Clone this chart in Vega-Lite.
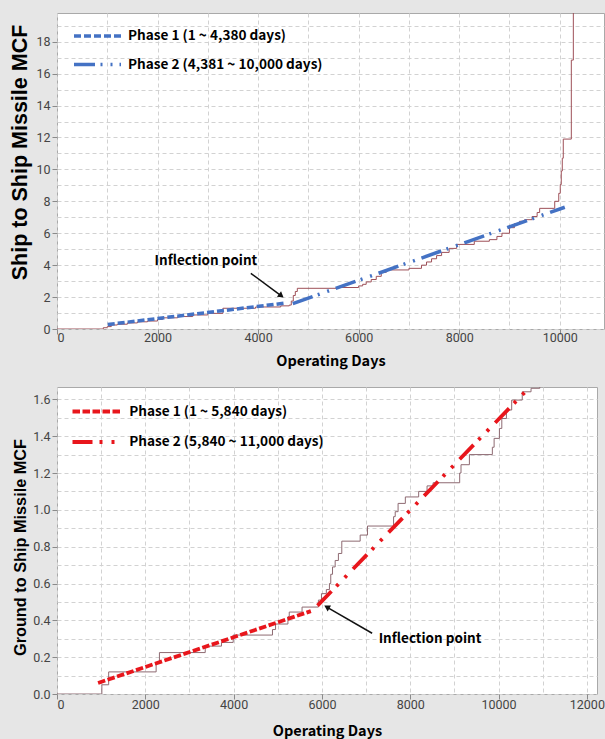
{
  "$schema": "https://vega.github.io/schema/vega-lite/v6.json",
  "background": "#e6e6e6",
  "padding": {"top": 12, "left": 9, "right": 2, "bottom": 20},
  "spacing": 10,
  "config": {
    "view": {"fill": "white", "stroke": "#a9a9a9", "strokeWidth": 1},
    "axis": {
      "labelFont": "Roboto", "labelFontSize": 12.5, "labelColor": "#444444",
      "titleFontWeight": "bold", "titleColor": "#000000",
      "gridColor": "#d2d2d2", "gridDash": [4, 3], "gridWidth": 1,
      "domain": false, "tickColor": "#8a8a8a", "tickSize": 5, "labelOverlap": false
    },
    "axisX": {"titleFont": "Noto Sans CJK KR", "titleFontSize": 14.5},
    "axisY": {"titleFont": "Liberation Sans", "labelPadding": 2},
    "legend": {"labelLimit": 0}
  },
  "datasets": {
    "ssm_mcf": [
      {"days": 0, "mcf": 0}, {"days": 910, "mcf": 0}, {"days": 920, "mcf": 0.08}, {"days": 1000, "mcf": 0.15},
      {"days": 1080, "mcf": 0.25}, {"days": 1200, "mcf": 0.3}, {"days": 1400, "mcf": 0.38}, {"days": 1600, "mcf": 0.45},
      {"days": 1800, "mcf": 0.5}, {"days": 2000, "mcf": 0.6}, {"days": 2100, "mcf": 0.7}, {"days": 2400, "mcf": 0.78},
      {"days": 2700, "mcf": 0.88}, {"days": 3000, "mcf": 0.98}, {"days": 3300, "mcf": 1.3}, {"days": 3950, "mcf": 1.38},
      {"days": 4450, "mcf": 1.45}, {"days": 4620, "mcf": 1.5}, {"days": 4660, "mcf": 1.75}, {"days": 4700, "mcf": 2.1},
      {"days": 4740, "mcf": 2.35}, {"days": 4780, "mcf": 2.55}, {"days": 5600, "mcf": 2.6}, {"days": 6000, "mcf": 2.7},
      {"days": 6080, "mcf": 2.8}, {"days": 6150, "mcf": 2.95}, {"days": 6250, "mcf": 3.1}, {"days": 6350, "mcf": 3.3},
      {"days": 6450, "mcf": 3.55}, {"days": 6550, "mcf": 3.7}, {"days": 7000, "mcf": 3.8}, {"days": 7250, "mcf": 4.0},
      {"days": 7350, "mcf": 4.2}, {"days": 7450, "mcf": 4.4}, {"days": 7550, "mcf": 4.6}, {"days": 7650, "mcf": 4.8},
      {"days": 7800, "mcf": 5.05}, {"days": 7950, "mcf": 5.3}, {"days": 8300, "mcf": 5.5}, {"days": 8600, "mcf": 5.6},
      {"days": 8750, "mcf": 5.8}, {"days": 8850, "mcf": 6.0}, {"days": 9000, "mcf": 6.35}, {"days": 9100, "mcf": 6.6},
      {"days": 9200, "mcf": 6.75}, {"days": 9300, "mcf": 6.85}, {"days": 9450, "mcf": 7.05}, {"days": 9550, "mcf": 7.3},
      {"days": 9600, "mcf": 7.56}, {"days": 9900, "mcf": 8.0}, {"days": 9980, "mcf": 8.5}, {"days": 10010, "mcf": 9.05},
      {"days": 10030, "mcf": 9.9}, {"days": 10050, "mcf": 10.7}, {"days": 10070, "mcf": 11.9}, {"days": 10230, "mcf": 16.85},
      {"days": 10270, "mcf": 19.8}
    ],
    "ssm_phase": [
      {"series": "Phase 1 (1 ~ 4,380 days)", "days": 1010, "mcf": 0.28},
      {"series": "Phase 1 (1 ~ 4,380 days)", "days": 4560, "mcf": 1.63},
      {"series": "Phase 2 (4,381 ~ 10,000 days)", "days": 4690, "mcf": 1.59},
      {"series": "Phase 2 (4,381 ~ 10,000 days)", "days": 10100, "mcf": 7.63}
    ],
    "ssm_arrow": [{"days": 4461, "mcf": 2.08, "days_from": 3855, "mcf_from": 3.49}],
    "ssm_note": [{"label": "Inflection point", "days": 2962, "mcf": 4.23}],
    "gsm_mcf": [
      {"days": 0, "mcf": 0}, {"days": 1016, "mcf": 0.05}, {"days": 1170, "mcf": 0.12}, {"days": 2245, "mcf": 0.17},
      {"days": 2320, "mcf": 0.225}, {"days": 3357, "mcf": 0.26}, {"days": 3725, "mcf": 0.28}, {"days": 3990, "mcf": 0.32},
      {"days": 4880, "mcf": 0.35}, {"days": 4950, "mcf": 0.38}, {"days": 5230, "mcf": 0.42}, {"days": 5260, "mcf": 0.445},
      {"days": 5550, "mcf": 0.472}, {"days": 5920, "mcf": 0.51}, {"days": 5990, "mcf": 0.545}, {"days": 6100, "mcf": 0.567},
      {"days": 6170, "mcf": 0.6}, {"days": 6200, "mcf": 0.65}, {"days": 6240, "mcf": 0.69}, {"days": 6300, "mcf": 0.725},
      {"days": 6373, "mcf": 0.763}, {"days": 6450, "mcf": 0.83}, {"days": 6866, "mcf": 0.863}, {"days": 7032, "mcf": 0.912},
      {"days": 7623, "mcf": 0.963}, {"days": 7660, "mcf": 0.99}, {"days": 7725, "mcf": 1.035}, {"days": 7889, "mcf": 1.07},
      {"days": 8191, "mcf": 1.1}, {"days": 8381, "mcf": 1.13}, {"days": 8518, "mcf": 1.147}, {"days": 9120, "mcf": 1.2},
      {"days": 9150, "mcf": 1.245}, {"days": 9340, "mcf": 1.3}, {"days": 9860, "mcf": 1.34}, {"days": 9900, "mcf": 1.388},
      {"days": 10020, "mcf": 1.442}, {"days": 10074, "mcf": 1.496}, {"days": 10178, "mcf": 1.542}, {"days": 10298, "mcf": 1.596},
      {"days": 10537, "mcf": 1.641}, {"days": 10736, "mcf": 1.66}, {"days": 10935, "mcf": 1.667}
    ],
    "gsm_phase": [
      {"series": "Phase 1 (1 ~ 5,840 days)", "days": 930, "mcf": 0.06},
      {"series": "Phase 1 (1 ~ 5,840 days)", "days": 5750, "mcf": 0.45},
      {"series": "Phase 2 (5,840 ~ 11,000 days)", "days": 5900, "mcf": 0.48},
      {"series": "Phase 2 (5,840 ~ 11,000 days)", "days": 10710, "mcf": 1.667}
    ],
    "gsm_arrow": [{"days": 6111, "mcf": 0.472, "days_from": 7137, "mcf_from": 0.33}],
    "gsm_note": [{"label": "Inflection point", "days": 8448, "mcf": 0.299}]
  },
  "vconcat": [
    {
      "width": 547,
      "height": 316,
      "encoding": {
        "x": {"field": "days", "type": "quantitative", "title": "Operating Days",
          "scale": {"domain": [0, 10880], "nice": false, "zero": false},
          "axis": {"values": [0, 1000, 2000, 3000, 4000, 5000, 6000, 7000, 8000, 9000, 10000],
            "labelExpr": "datum.value % 2000 === 0 ? datum.label : ''", "format": "d", "labelPadding": -2.5, "titlePadding": 10,
            "tickOpacity": {"condition": {"test": "datum.value % 2000 !== 0", "value": 0}, "value": 1}}},
        "y": {"field": "mcf", "type": "quantitative", "title": "Ship to Ship Missile MCF",
          "scale": {"domain": [0, 19.8], "nice": false},
          "axis": {"values": [0, 1, 2, 3, 4, 5, 6, 7, 8, 9, 10, 11, 12, 13, 14, 15, 16, 17, 18, 19],
            "labelExpr": "datum.value % 2 === 0 ? datum.label : ''", "titleFontSize": 21.5, "titleY": 139,
            "tickOpacity": {"condition": {"test": "datum.value % 2 !== 0", "value": 0}, "value": 1}}}
      },
      "layer": [
        {"data": {"name": "ssm_mcf"}, "mark": {"type": "line", "interpolate": "step-after", "color": "#9e5058", "strokeWidth": 1, "clip": true}},
        {"data": {"name": "ssm_phase"},
          "mark": {"type": "line", "strokeWidth": 3.5, "strokeCap": "butt"},
          "encoding": {
            "color": {"field": "series", "type": "nominal", "scale": {"range": ["#4472c4", "#4472c4"]},
              "legend": {"title": null, "orient": "none", "legendX": 33.5, "legendY": 16, "padding": 0, "symbolType": "M-4.7,0H4.7", "symbolSize": 100,
                "symbolStrokeWidth": 3.5, "labelFont": "Noto Sans CJK KR", "labelFontWeight": "bold", "labelFontSize": 13.6,
                "labelColor": "#000000", "labelOffset": 23.5, "rowPadding": 14.5}},
            "strokeDash": {"field": "series", "type": "nominal", "scale": {"range": [[7, 3], [21, 5.5, 2, 8, 2, 7]]},
              "legend": {"title": null, "orient": "none", "legendX": 33.5, "legendY": 16, "padding": 0, "symbolType": "M-4.7,0H4.7", "symbolSize": 100,
                "symbolStrokeWidth": 3.5, "labelFont": "Noto Sans CJK KR", "labelFontWeight": "bold", "labelFontSize": 13.6,
                "labelColor": "#000000", "labelOffset": 23.5, "rowPadding": 14.5}}
          }},
        {"data": {"name": "ssm_arrow"}, "mark": {"type": "rule", "color": "#111111", "strokeWidth": 1.5},
          "encoding": {"x2": {"field": "days_from"}, "y2": {"field": "mcf_from"}}},
        {"data": {"name": "ssm_arrow"}, "mark": {"type": "point", "shape": "triangle-up", "filled": true, "color": "#111111", "opacity": 1, "size": 45, "angle": 128}},
        {"data": {"name": "ssm_note"}, "mark": {"type": "text", "font": "Noto Sans CJK KR", "fontWeight": "bold", "fontSize": 13.5, "color": "#000000"},
          "encoding": {"text": {"field": "label"}}}
      ]
    },
    {
      "width": 540,
      "height": 307,
      "encoding": {
        "x": {"field": "days", "type": "quantitative", "title": "Operating Days",
          "scale": {"domain": [0, 12230], "nice": false, "zero": false},
          "axis": {"values": [0, 1000, 2000, 3000, 4000, 5000, 6000, 7000, 8000, 9000, 10000, 11000, 12000],
            "labelExpr": "datum.value % 2000 === 0 ? datum.label : ''", "format": "d", "labelPadding": -1, "titlePadding": 14,
            "tickOpacity": {"condition": {"test": "datum.value % 2000 !== 0", "value": 0}, "value": 1}}},
        "y": {"field": "mcf", "type": "quantitative", "title": "Ground to Ship Missile MCF",
          "scale": {"domain": [0, 1.667], "nice": false},
          "axis": {"values": [0, 0.1, 0.2, 0.3, 0.4, 0.5, 0.6, 0.7, 0.8, 0.9, 1.0, 1.1, 1.2, 1.3, 1.4, 1.5, 1.6],
            "format": ".1f", "titleFontSize": 16.3, "titleY": 160,
            "labelExpr": "round(datum.value * 10) % 2 === 0 ? datum.label : ''",
            "tickOpacity": {"condition": {"test": "round(datum.value * 10) % 2 !== 0", "value": 0}, "value": 1}}}
      },
      "layer": [
        {"data": {"name": "gsm_mcf"}, "mark": {"type": "line", "interpolate": "step-after", "color": "#8e6a72", "strokeWidth": 1, "clip": true}},
        {"data": {"name": "gsm_phase"},
          "mark": {"type": "line", "strokeWidth": 3.8, "strokeCap": "butt"},
          "encoding": {
            "color": {"field": "series", "type": "nominal", "scale": {"range": ["#e8161c", "#e8161c"]},
              "legend": {"title": null, "orient": "none", "legendX": 32.5, "legendY": 17.5, "padding": 0, "symbolType": "M-4.8,0H4.8", "symbolSize": 100,
                "symbolStrokeWidth": 3.8, "labelFont": "Noto Sans CJK KR", "labelFontWeight": "bold", "labelFontSize": 13.6,
                "labelColor": "#000000", "labelOffset": 25.7, "rowPadding": 14.5}},
            "strokeDash": {"field": "series", "type": "nominal", "scale": {"range": [[7.5, 2.5], [20, 7, 3, 9, 3, 9]]},
              "legend": {"title": null, "orient": "none", "legendX": 32.5, "legendY": 17.5, "padding": 0, "symbolType": "M-4.8,0H4.8", "symbolSize": 100,
                "symbolStrokeWidth": 3.8, "labelFont": "Noto Sans CJK KR", "labelFontWeight": "bold", "labelFontSize": 13.6,
                "labelColor": "#000000", "labelOffset": 25.7, "rowPadding": 14.5}}
          }},
        {"data": {"name": "gsm_arrow"}, "mark": {"type": "rule", "color": "#111111", "strokeWidth": 1.5},
          "encoding": {"x2": {"field": "days_from"}, "y2": {"field": "mcf_from"}}},
        {"data": {"name": "gsm_arrow"}, "mark": {"type": "point", "shape": "triangle-up", "filled": true, "color": "#111111", "opacity": 1, "size": 45, "angle": 300}},
        {"data": {"name": "gsm_note"}, "mark": {"type": "text", "font": "Noto Sans CJK KR", "fontWeight": "bold", "fontSize": 13.5, "color": "#000000"},
          "encoding": {"text": {"field": "label"}}}
      ]
    }
  ],
  "resolve": {"scale": {"color": "independent", "strokeDash": "independent", "x": "independent", "y": "independent"}}
}
